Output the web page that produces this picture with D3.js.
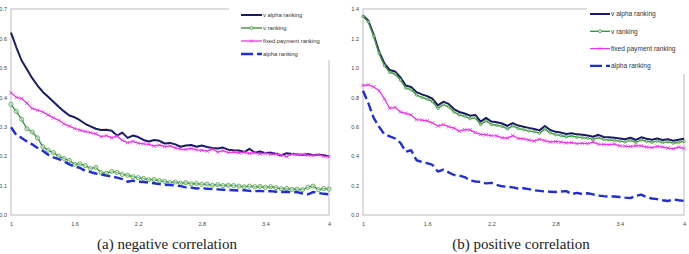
<!DOCTYPE html>
<html>
<head>
<meta charset="utf-8">
<script src="https://cdn.jsdelivr.net/npm/d3@7"></script>
<style>
  body { margin: 0; background: #fff; }
  svg { display: block; }
  .tick text { font-family: Arial, "Liberation Sans", sans-serif; font-size: 5.5px; fill: #444; }
  .legend text { font-family: Arial, "Liberation Sans", sans-serif; fill: #333; }
  .caption { font-family: "Liberation Serif", "DejaVu Serif", serif; font-size: 15px; fill: #222; }
</style>
</head>
<body>
<svg width="689" height="254"></svg>
<script>
// x positions shared by every series
var xValues = d3.range(61).map(function (i) { return +(1 + i * 0.05).toFixed(2); });
var xTicks = [1, 1.6, 2.2, 2.8, 3.4, 4];
var seriesNames = ["v alpha ranking", "v ranking", "fixed payment ranking", "alpha ranking"];

// (a) negative correlation
var negVAlpha = [0.620, 0.570, 0.525, 0.495, 0.465, 0.440, 0.418, 0.402, 0.385, 0.368,
  0.352, 0.338, 0.332, 0.322, 0.310, 0.301, 0.293, 0.289, 0.290, 0.286,
  0.270, 0.280, 0.262, 0.270, 0.265, 0.255, 0.250, 0.255, 0.252, 0.243,
  0.245, 0.240, 0.232, 0.236, 0.238, 0.232, 0.236, 0.231, 0.228, 0.226,
  0.229, 0.222, 0.220, 0.219, 0.214, 0.225, 0.212, 0.216, 0.210, 0.212,
  0.208, 0.202, 0.210, 0.207, 0.206, 0.204, 0.207, 0.203, 0.205, 0.203, 0.199];
var negV = [0.376, 0.352, 0.325, 0.293, 0.282, 0.262, 0.232, 0.220, 0.212, 0.200,
  0.192, 0.185, 0.172, 0.174, 0.168, 0.158, 0.162, 0.144, 0.142, 0.148,
  0.145, 0.138, 0.135, 0.130, 0.127, 0.124, 0.120, 0.121, 0.117, 0.114,
  0.110, 0.112, 0.108, 0.110, 0.106, 0.107, 0.104, 0.105, 0.101, 0.103,
  0.100, 0.101, 0.100, 0.098, 0.096, 0.098, 0.096, 0.097, 0.094, 0.096,
  0.093, 0.089, 0.090, 0.087, 0.088, 0.086, 0.094, 0.098, 0.086, 0.090, 0.088];
var negFixed = [0.415, 0.400, 0.396, 0.380, 0.362, 0.356, 0.350, 0.340, 0.330, 0.322,
  0.310, 0.302, 0.294, 0.288, 0.284, 0.280, 0.276, 0.266, 0.270, 0.262,
  0.268, 0.254, 0.246, 0.250, 0.244, 0.242, 0.240, 0.234, 0.238, 0.232,
  0.235, 0.228, 0.224, 0.223, 0.226, 0.221, 0.220, 0.217, 0.224, 0.214,
  0.219, 0.212, 0.214, 0.211, 0.213, 0.209, 0.212, 0.207, 0.210, 0.206,
  0.207, 0.204, 0.198, 0.207, 0.205, 0.206, 0.203, 0.202, 0.205, 0.199, 0.198];
var negAlpha = [0.298, 0.272, 0.262, 0.250, 0.240, 0.228, 0.218, 0.205, 0.196, 0.190,
  0.182, 0.172, 0.165, 0.160, 0.150, 0.146, 0.141, 0.138, 0.134, 0.131,
  0.127, 0.122, 0.113, 0.117, 0.113, 0.112, 0.110, 0.108, 0.105, 0.103,
  0.102, 0.100, 0.098, 0.094, 0.093, 0.090, 0.092, 0.089, 0.088, 0.087,
  0.086, 0.085, 0.084, 0.083, 0.084, 0.082, 0.081, 0.082, 0.080, 0.081,
  0.079, 0.078, 0.079, 0.077, 0.078, 0.073, 0.070, 0.078, 0.075, 0.072, 0.070];
var negYTicks = [0, 0.1, 0.2, 0.3, 0.4, 0.5, 0.6, 0.7];

// (b) positive correlation
var posVAlpha = [1.356, 1.320, 1.225, 1.110, 1.030, 0.985, 0.975, 0.935, 0.880, 0.870,
  0.835, 0.820, 0.808, 0.790, 0.745, 0.770, 0.755, 0.720, 0.700, 0.690,
  0.675, 0.680, 0.635, 0.660, 0.635, 0.630, 0.622, 0.605, 0.625, 0.608,
  0.600, 0.592, 0.585, 0.575, 0.605, 0.578, 0.565, 0.560, 0.550, 0.555,
  0.548, 0.545, 0.540, 0.532, 0.545, 0.530, 0.528, 0.525, 0.520, 0.515,
  0.525, 0.510, 0.528, 0.518, 0.512, 0.520, 0.510, 0.515, 0.505, 0.512, 0.518];
var posV = [1.350, 1.312, 1.215, 1.098, 1.015, 0.970, 0.958, 0.918, 0.862, 0.852,
  0.815, 0.800, 0.788, 0.770, 0.725, 0.750, 0.735, 0.700, 0.680, 0.672,
  0.655, 0.660, 0.615, 0.640, 0.615, 0.610, 0.602, 0.585, 0.605, 0.588,
  0.580, 0.572, 0.566, 0.556, 0.585, 0.558, 0.546, 0.540, 0.532, 0.537,
  0.529, 0.526, 0.522, 0.514, 0.526, 0.512, 0.510, 0.507, 0.502, 0.497,
  0.507, 0.493, 0.510, 0.500, 0.494, 0.502, 0.492, 0.497, 0.488, 0.494, 0.500];
var posFixed = [0.880, 0.885, 0.870, 0.845, 0.790, 0.725, 0.732, 0.700, 0.690, 0.680,
  0.648, 0.645, 0.640, 0.625, 0.605, 0.615, 0.600, 0.590, 0.570, 0.580,
  0.578, 0.560, 0.548, 0.545, 0.540, 0.538, 0.525, 0.522, 0.540, 0.520,
  0.518, 0.510, 0.502, 0.515, 0.505, 0.496, 0.500, 0.495, 0.490, 0.492,
  0.485, 0.488, 0.485, 0.495, 0.482, 0.480, 0.478, 0.482, 0.470, 0.468,
  0.465, 0.472, 0.470, 0.462, 0.458, 0.466, 0.462, 0.455, 0.450, 0.462, 0.452];
var posAlpha = [0.845, 0.760, 0.660, 0.600, 0.548, 0.535, 0.520, 0.490, 0.430, 0.440,
  0.372, 0.360, 0.352, 0.340, 0.295, 0.308, 0.290, 0.272, 0.268, 0.258,
  0.235, 0.228, 0.225, 0.215, 0.218, 0.205, 0.195, 0.192, 0.188, 0.180,
  0.182, 0.176, 0.168, 0.164, 0.160, 0.158, 0.156, 0.160, 0.162, 0.142,
  0.150, 0.142, 0.148, 0.140, 0.132, 0.128, 0.125, 0.126, 0.122, 0.118,
  0.115, 0.130, 0.138, 0.122, 0.112, 0.108, 0.100, 0.095, 0.106, 0.100, 0.096];
var posYTicks = [0, 0.2, 0.4, 0.6, 0.8, 1.0, 1.2, 1.4];

var styles = [
  { color: "#1a1a66", width: 2, dash: null, marker: null },
  { color: "#3f973f", width: 1.4, dash: null, marker: "circle" },
  { color: "#e63ae6", width: 1.3, dash: null, marker: "cross" },
  { color: "#2030d0", width: 2.4, dash: "9,4", marker: null }
];

var svg = d3.select("svg");

function drawPanel(opt) {
  var g = svg.append("g");
  var xScale = d3.scaleLinear().domain([1, 4]).range([opt.left, opt.right]);
  var yScale = d3.scaleLinear().domain([0, opt.yMax]).range([opt.bottom, opt.top]);

  // frame
  g.append("rect")
    .attr("x", opt.left).attr("y", opt.top)
    .attr("width", opt.right - opt.left).attr("height", opt.bottom - opt.top)
    .attr("fill", "none").attr("stroke", "#c8c8c8").attr("stroke-width", 1.2);

  var xAxis = g.append("g")
    .attr("transform", "translate(0," + opt.bottom + ")")
    .call(d3.axisBottom(xScale).tickValues(xTicks).tickSize(0).tickPadding(7)
      .tickFormat(function (d) { return d; }));
  xAxis.select(".domain").remove();

  var yAxis = g.append("g")
    .attr("transform", "translate(" + opt.left + ",0)")
    .call(d3.axisLeft(yScale).tickValues(opt.yTicks).tickSize(0).tickPadding(4)
      .tickFormat(d3.format(".1f")));
  yAxis.select(".domain").remove();

  var line = d3.line()
    .x(function (d, i) { return xScale(xValues[i]); })
    .y(function (d) { return yScale(d); });

  opt.series.forEach(function (values, k) {
    var s = styles[k];
    g.append("path")
      .attr("d", line(values))
      .attr("fill", "none")
      .attr("stroke", s.color)
      .attr("stroke-width", s.width)
      .attr("stroke-dasharray", s.dash)
      .attr("stroke-linejoin", "round");

    if (s.marker === "circle") {
      g.selectAll(null).data(values).enter().append("circle")
        .attr("cx", function (d, i) { return xScale(xValues[i]); })
        .attr("cy", function (d) { return yScale(d); })
        .attr("r", opt.circleR)
        .attr("fill", "#d8ecd8").attr("fill-opacity", 0.6)
        .attr("stroke", s.color).attr("stroke-width", 0.7);
    }
    if (s.marker === "cross") {
      g.selectAll(null).data(values).enter().append("path")
        .attr("transform", function (d, i) {
          return "translate(" + xScale(xValues[i]) + "," + yScale(d) + ")";
        })
        .attr("d", "M-1.8,-1.8L1.8,1.8M-1.8,1.8L1.8,-1.8")
        .attr("stroke", s.color).attr("stroke-width", 0.8);
    }
  });

  // legend
  var lg = g.append("g").attr("class", "legend");
  lg.append("rect")
    .attr("x", opt.legend.x).attr("y", opt.legend.y)
    .attr("width", opt.legend.w).attr("height", opt.legend.h)
    .attr("fill", "#fff");
  seriesNames.forEach(function (name, k) {
    var s = styles[k];
    var y = opt.legend.y + opt.legend.first + k * opt.legend.step;
    var x0 = opt.legend.x + opt.legend.pad;
    var x1 = x0 + opt.legend.len;
    lg.append("line")
      .attr("x1", x0).attr("x2", x1).attr("y1", y).attr("y2", y)
      .attr("stroke", s.color).attr("stroke-width", s.width)
      .attr("stroke-dasharray", s.dash ? "12,4" : null);
    if (s.marker === "circle") {
      lg.append("circle").attr("cx", (x0 + x1) / 2).attr("cy", y).attr("r", 1.6)
        .attr("fill", "#d8ecd8").attr("stroke", s.color).attr("stroke-width", 0.7);
    }
    if (s.marker === "cross") {
      lg.append("path")
        .attr("transform", "translate(" + (x0 + x1) / 2 + "," + y + ")")
        .attr("d", "M-1.6,-1.6L1.6,1.6M-1.6,1.6L1.6,-1.6")
        .attr("stroke", s.color).attr("stroke-width", 0.7);
    }
    lg.append("text")
      .attr("x", x1 + 1).attr("y", y)
      .attr("dy", "0.35em")
      .style("font-size", opt.legend.font + "px")
      .text(name);
  });

  svg.append("text")
    .attr("class", "caption")
    .attr("x", opt.captionX).attr("y", 249)
    .attr("text-anchor", "middle")
    .text(opt.caption);
}

drawPanel({
  left: 11, right: 329, top: 9, bottom: 215, yMax: 0.7, yTicks: negYTicks,
  series: [negVAlpha, negV, negFixed, negAlpha], circleR: 2.1,
  legend: { x: 229, y: 5, w: 103, h: 55, first: 10, step: 13, pad: 12, len: 21, font: 5.8 },
  caption: "(a) negative correlation", captionX: 167
});

drawPanel({
  left: 363, right: 684, top: 9, bottom: 215, yMax: 1.4, yTicks: posYTicks,
  series: [posVAlpha, posV, posFixed, posAlpha], circleR: 1.3,
  legend: { x: 587, y: 4, w: 102, h: 70, first: 10, step: 17.3, pad: 3, len: 20, font: 6.6 },
  caption: "(b) positive correlation", captionX: 521
});
</script>
</body>
</html>
